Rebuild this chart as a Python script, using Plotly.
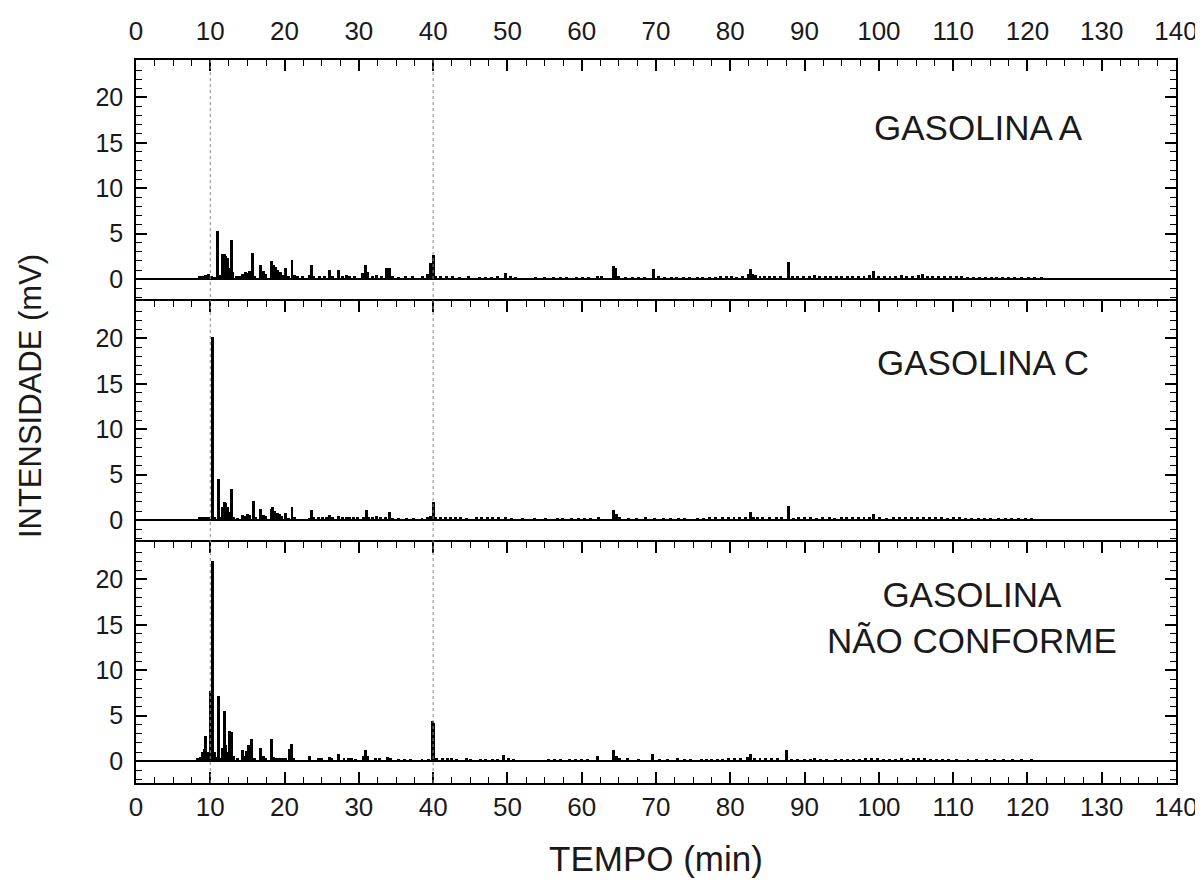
import plotly.graph_objects as go
from plotly.subplots import make_subplots

# ---------------- data (peak retention time, min ; intensity, mV) ----------------
panel_labels = ["GASOLINA A", "GASOLINA C", "GASOLINA<br>NÃO CONFORME"]

gas_a_time = [8.6, 9.0, 9.4, 9.8, 10.2, 10.6, 11.0, 11.4, 11.7, 11.9, 12.1, 12.3, 12.5, 12.8, 13.0,
              13.5, 13.9, 14.4, 14.7, 15.0, 15.3, 15.7, 16.0, 16.8, 17.1, 17.4, 18.2, 18.5, 18.8,
              19.1, 19.4, 19.7, 20.1, 20.5, 21.0, 21.3, 21.8, 22.4, 23.3, 23.6, 23.9, 24.7, 25.4,
              26.1, 26.5, 27.3, 27.8, 28.3, 28.8, 29.4, 30.5, 30.9, 31.2, 31.8, 32.4, 33.0, 33.7,
              34.1, 34.5, 35.4, 36.3, 37.2, 38.6, 39.3, 39.7, 40.0, 40.3, 41.0, 41.8, 42.6, 43.5,
              44.8, 46.2, 47.0, 47.8, 48.6, 49.7, 50.4, 51.1, 53.8, 55.0, 56.2, 57.1, 58.0, 59.3,
              60.1, 60.9, 62.1, 62.7, 64.3, 64.6, 65.0, 65.9, 66.8, 67.6, 68.5, 69.7, 70.3, 71.2,
              72.1, 72.8, 73.7, 74.5, 75.6, 76.3, 77.2, 78.0, 78.7, 79.5, 80.2, 80.9, 81.6, 82.4,
              82.7, 83.0, 83.4, 84.0, 84.6, 85.3, 86.0, 86.7, 87.8, 88.4, 89.1, 89.8, 90.6, 91.3,
              92.0, 92.8, 93.5, 94.3, 95.0, 95.8, 96.5, 97.3, 98.0, 98.7, 99.3, 100.0, 100.8,
              101.5, 102.3, 103.0, 103.7, 104.5, 105.3, 105.9, 106.5, 107.2, 108.0, 108.8, 109.6,
              110.4, 111.1, 111.9, 112.7, 113.5, 114.3, 115.1, 115.9, 116.7, 117.4, 118.3, 119.2,
              120.1, 121.0, 121.9]
gas_a_mv = [0.3, 0.4, 0.5, 0.6, 0.3, 0.2, 5.35, 0.5, 2.8, 2.8, 2.5, 2.3, 1.2, 4.35, 0.8,
            0.4, 0.3, 0.6, 0.8, 0.7, 0.9, 2.9, 0.3, 1.6, 0.9, 0.6, 2.0, 1.6, 1.3,
            1.0, 0.8, 0.5, 1.2, 0.3, 2.1, 0.5, 0.3, 0.3, 0.5, 1.6, 0.4, 0.4, 0.3,
            1.0, 0.3, 1.0, 0.3, 0.5, 0.4, 0.3, 0.7, 1.6, 0.8, 0.4, 0.5, 0.3, 1.2,
            1.2, 0.3, 0.2, 0.3, 0.3, 0.3, 0.6, 1.8, 2.7, 0.4, 0.3, 0.3, 0.3, 0.2,
            0.4, 0.2, 0.2, 0.2, 0.3, 0.7, 0.3, 0.2, 0.2, 0.2, 0.2, 0.2, 0.2, 0.2,
            0.2, 0.2, 0.4, 0.3, 1.5, 1.2, 0.3, 0.2, 0.2, 0.2, 0.2, 1.1, 0.3, 0.2,
            0.2, 0.2, 0.2, 0.2, 0.2, 0.2, 0.2, 0.2, 0.3, 0.3, 0.3, 0.2, 0.3, 0.6,
            1.1, 0.6, 0.5, 0.3, 0.4, 0.3, 0.3, 0.4, 1.9, 0.3, 0.3, 0.3, 0.3, 0.5,
            0.3, 0.3, 0.3, 0.3, 0.4, 0.3, 0.3, 0.4, 0.4, 0.5, 0.9, 0.3, 0.3,
            0.3, 0.4, 0.5, 0.3, 0.4, 0.5, 0.6, 0.4, 0.3, 0.3, 0.3, 0.3,
            0.3, 0.3, 0.2, 0.2, 0.2, 0.2, 0.2, 0.2, 0.2, 0.2, 0.2, 0.2,
            0.2, 0.2, 0.2]

gas_c_time = [8.6, 9.0, 9.4, 9.8, 10.27, 10.6, 11.04, 11.4, 11.7, 11.9, 12.1, 12.3, 12.5, 12.9, 13.1,
              13.6, 14.3, 14.7, 15.0, 15.3, 15.8, 16.1, 16.8, 17.1, 17.4, 18.2, 18.4, 18.7, 19.0,
              19.3, 19.6, 20.1, 20.5, 21.0, 21.3, 23.3, 23.6, 23.9, 24.6, 25.1, 25.6, 26.1, 26.5,
              27.3, 27.8, 28.3, 28.8, 29.3, 29.8, 30.6, 31.0, 31.3, 31.8, 32.4, 32.9, 33.6, 34.1,
              34.5, 35.4, 36.4, 37.3, 38.5, 39.2, 39.6, 40.0, 40.3, 41.0, 41.6, 42.3, 43.0, 43.7,
              44.5, 45.8, 46.5, 47.3, 48.0, 48.8, 49.7, 50.6, 52.0, 53.6, 55.1, 56.7, 57.4, 58.6,
              59.6, 60.4, 61.2, 62.2, 64.3, 64.7, 65.1, 66.3, 67.4, 68.6, 69.8, 71.0, 72.0, 73.0,
              73.8, 75.6, 76.4, 77.2, 78.0, 79.0, 79.8, 80.5, 81.3, 82.0, 82.7, 83.1, 83.7, 84.4,
              85.3, 86.2, 86.9, 87.8, 88.5, 89.2, 90.0, 90.8, 91.6, 92.4, 93.4, 94.0, 95.0, 95.7,
              96.5, 97.3, 98.0, 98.7, 99.3, 100.1, 101.0, 102.0, 102.8, 103.6, 104.4, 105.2, 106.0,
              106.8, 107.6, 108.4, 109.2, 110.0, 110.8, 111.6, 112.5, 113.4, 114.2, 115.0, 116.1,
              117.0, 117.9, 118.8, 119.7, 120.6]
gas_c_mv = [0.3, 0.3, 0.3, 0.3, 20.1, 0.3, 4.5, 0.3, 1.5, 2.0, 1.9, 1.5, 0.9, 3.4, 0.4,
            0.2, 0.6, 0.5, 0.7, 0.6, 2.1, 0.3, 1.25, 0.6, 0.5, 1.2, 1.4, 1.0, 0.8,
            0.7, 0.5, 0.8, 0.2, 1.5, 0.3, 0.2, 1.1, 0.3, 0.3, 0.4, 0.4, 0.6, 0.4,
            0.5, 0.3, 0.4, 0.4, 0.3, 0.3, 0.4, 1.1, 0.4, 0.3, 0.5, 0.3, 0.3, 0.9,
            0.2, 0.2, 0.2, 0.2, 0.2, 0.3, 0.5, 1.95, 0.3, 0.3, 0.3, 0.4, 0.3, 0.3,
            0.2, 0.3, 0.3, 0.3, 0.3, 0.3, 0.4, 0.2, 0.2, 0.2, 0.2, 0.2, 0.2, 0.2,
            0.2, 0.2, 0.2, 0.3, 1.1, 0.7, 0.3, 0.2, 0.2, 0.3, 0.2, 0.2, 0.2, 0.2,
            0.2, 0.2, 0.2, 0.3, 0.3, 0.3, 0.3, 0.3, 0.4, 0.3, 0.85, 0.4, 0.3, 0.3,
            0.3, 0.3, 0.4, 1.55, 0.2, 0.3, 0.3, 0.3, 0.2, 0.3, 0.3, 0.2, 0.3, 0.3,
            0.3, 0.3, 0.4, 0.4, 0.65, 0.3, 0.2, 0.3, 0.3, 0.3, 0.3, 0.4, 0.4,
            0.3, 0.3, 0.3, 0.2, 0.3, 0.3, 0.2, 0.2, 0.2, 0.2, 0.2, 0.2,
            0.2, 0.2, 0.2, 0.2, 0.2]

gas_nc_time = [8.3, 8.7, 9.0, 9.2, 9.4, 9.6, 9.8, 10.05, 10.3, 10.55, 10.75, 11.05, 11.3, 11.6, 11.9,
               12.1, 12.3, 12.6, 12.9, 13.1, 13.6, 14.3, 14.6, 14.9, 15.2, 15.6, 15.9, 16.8, 17.1,
               17.4, 18.2, 18.5, 18.9, 19.3, 19.7, 20.1, 20.6, 20.9, 21.2, 23.4, 24.6, 25.0, 26.0,
               26.3, 27.3, 28.0, 28.6, 29.0, 29.5, 30.6, 30.9, 31.2, 32.3, 32.8, 33.9, 34.3, 35.3,
               36.2, 37.0, 38.5, 39.4, 39.9, 40.1, 40.4, 41.2, 41.9, 42.5, 43.2, 44.5, 45.0, 46.4,
               47.1, 48.0, 48.7, 49.5, 50.1, 50.8, 55.5, 56.3, 57.2, 58.4, 59.1, 60.0, 60.8, 62.1,
               64.3, 64.7, 65.1, 66.2, 67.7, 69.5, 70.5, 71.5, 72.9, 73.8, 74.6, 76.1, 76.8, 77.5,
               78.3, 79.0, 79.8, 80.6, 81.4, 82.3, 82.7, 83.2, 84.0, 84.8, 85.6, 86.4, 87.6, 88.3,
               89.1, 90.0, 90.8, 91.3, 92.1, 93.0, 94.2, 95.0, 95.8, 96.6, 97.4, 98.2, 99.0, 99.8,
               100.6, 101.4, 102.2, 103.0, 103.8, 104.6, 105.4, 106.2, 107.0, 107.8, 108.6, 109.4,
               110.4, 112.0, 113.2, 114.5, 115.6, 116.8, 118.0, 119.2, 120.6]
gas_nc_mv = [0.3, 0.5, 1.0, 1.3, 2.75, 1.0, 0.5, 7.7, 22.0, 1.0, 0.5, 7.2, 0.4, 1.5, 5.55,
             1.8, 1.0, 3.3, 3.2, 0.6, 0.3, 1.2, 0.6, 1.1, 1.8, 2.45, 0.3, 1.4, 0.6,
             0.4, 2.45, 0.5, 0.4, 0.4, 0.3, 0.4, 1.35, 1.85, 0.3, 0.6, 0.4, 0.3, 0.5,
             0.4, 0.75, 0.3, 0.3, 0.3, 0.2, 0.6, 1.2, 0.6, 0.3, 0.3, 0.5, 0.3, 0.2,
             0.2, 0.2, 0.2, 0.2, 4.4, 4.2, 0.3, 0.3, 0.3, 0.3, 0.2, 0.4, 0.2, 0.2,
             0.2, 0.2, 0.2, 0.65, 0.3, 0.2, 0.2, 0.2, 0.2, 0.2, 0.2, 0.2, 0.2, 0.6,
             1.2, 0.6, 0.3, 0.3, 0.2, 0.8, 0.2, 0.2, 0.3, 0.2, 0.2, 0.2, 0.2, 0.2,
             0.2, 0.2, 0.3, 0.3, 0.3, 0.5, 0.8, 0.4, 0.3, 0.4, 0.3, 0.3, 1.2, 0.2,
             0.2, 0.2, 0.2, 0.3, 0.2, 0.2, 0.2, 0.2, 0.2, 0.2, 0.2, 0.3, 0.3, 0.3,
             0.2, 0.2, 0.2, 0.3, 0.2, 0.3, 0.3, 0.3, 0.2, 0.2, 0.2, 0.2,
             0.2, 0.2, 0.2, 0.2, 0.2, 0.2, 0.2, 0.2, 0.2]

grid_times = [10, 40]
x_ticks = list(range(0, 141, 10))
y_ticks = [0, 5, 10, 15, 20]

series = [(gas_a_time, gas_a_mv), (gas_c_time, gas_c_mv), (gas_nc_time, gas_nc_mv)]

# ---------------- figure ----------------
FONT = "Liberation Sans, Arial, sans-serif"
TXT = "#1a1a1a"

fig = make_subplots(rows=3, cols=1, shared_xaxes=False, vertical_spacing=0)

for i, (t, mv) in enumerate(series):
    fig.add_trace(go.Bar(x=t, y=mv, width=0.4, marker=dict(color="black", line=dict(width=0)),
                         showlegend=False, hoverinfo="x+y"), row=i + 1, col=1)

axis_common = dict(range=[0, 140], tickvals=x_ticks, ticks="inside", ticklen=11, tickwidth=1.5,
                   tickcolor="black", showline=True, linecolor="black", linewidth=1.5,
                   showgrid=False, zeroline=False, automargin=False,
                   minor=dict(dtick=2.5, tick0=0, ticks="inside", ticklen=6, tickwidth=1.2,
                              tickcolor="black"),
                   tickfont=dict(family=FONT, size=26, color=TXT))

fig.update_layout(
    xaxis=dict(**axis_common, side="top", mirror=False, ticklabelstandoff=8),
    xaxis2=dict(**axis_common, side="top", mirror=False, showticklabels=False, matches="x"),
    xaxis3=dict(**axis_common, side="bottom", mirror="ticks", ticklabelstandoff=0, matches="x"),
)
fig.update_layout(xaxis_domain=[0, 1], xaxis2_domain=[0, 1], xaxis3_domain=[0, 1],
                  yaxis_domain=[2 / 3, 1], yaxis2_domain=[1 / 3, 2 / 3], yaxis3_domain=[0, 1 / 3])

for i in range(3):
    fig.update_yaxes(range=[-2.4, 24.1], tickvals=y_ticks, ticks="inside", ticklen=11, tickwidth=1.5,
                     tickcolor="black", showline=True, linecolor="black", linewidth=1.5, mirror="ticks",
                     showgrid=False, zeroline=True, zerolinecolor="black", zerolinewidth=1.5,
                     automargin=False,
                     minor=dict(dtick=1, tick0=0, ticks="inside", ticklen=6, tickwidth=1.2,
                                tickcolor="black"),
                     tickfont=dict(family=FONT, size=25, color=TXT), ticklabelstandoff=6,
                     row=i + 1, col=1)

# dotted reference lines
for gt in grid_times:
    fig.add_shape(type="line", xref="x", yref="paper", x0=gt, x1=gt, y0=0, y1=1,
                  line=dict(color="#8a8a8a", width=1, dash="dot"), layer="above")

label_pos = [(0.81, 0.906), (0.814, 0.581), (0.804, 0.229)]
for lab, (lx, ly) in zip(panel_labels, label_pos):
    fig.add_annotation(text=lab, xref="paper", yref="paper", x=lx, y=ly, showarrow=False,
                       xanchor="center", yanchor="middle",
                       font=dict(family=FONT, size=35, color=TXT))

fig.add_annotation(text="INTENSIDADE (mV)", xref="paper", yref="paper", x=-0.102, y=0.535,
                   textangle=-90, showarrow=False, xanchor="center", yanchor="middle",
                   font=dict(family=FONT, size=31, color=TXT))
fig.add_annotation(text="TEMPO (min)", xref="paper", yref="paper", x=0.5, y=-0.104,
                   showarrow=False, xanchor="center", yanchor="middle",
                   font=dict(family=FONT, size=35, color=TXT))

# the page body adds an 8 px offset, so the figure is sized to fit the 1203x883 window
fig.update_layout(width=1195, height=875, margin=dict(l=128, r=27, t=52, b=100),
                  plot_bgcolor="white", paper_bgcolor="white", bargap=0, barmode="overlay")

fig.write_html("out.html")
